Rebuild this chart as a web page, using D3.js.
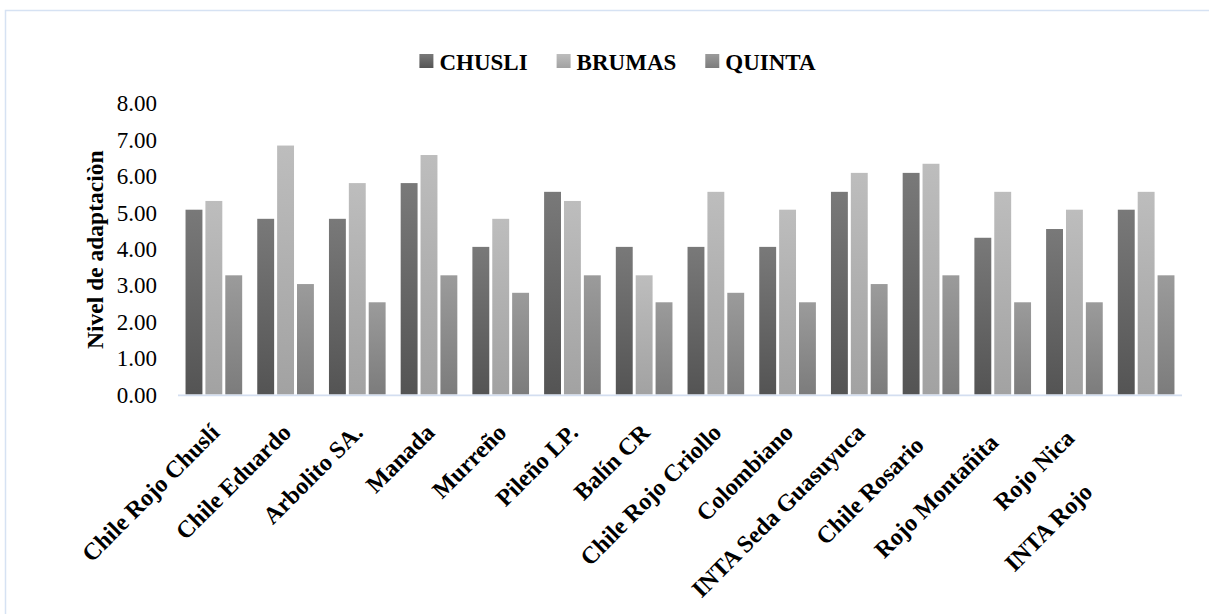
<!DOCTYPE html>
<html>
<head>
<meta charset="utf-8">
<script src="https://cdn.jsdelivr.net/npm/d3@7"></script>
<style>
  html, body { margin: 0; padding: 0; background: #fff; }
  svg { display: block; }
</style>
</head>
<body>
<svg id="chart" width="1209" height="614"></svg>
<script>
// Varieties on the category axis
const categories = [
  "Chile Rojo Chuslí", "Chile Eduardo", "Arbolito SA.", "Manada", "Murreño",
  "Pileño LP.", "Balín CR", "Chile Rojo Criollo", "Colombiano",
  "INTA Seda Guasuyuca", "Chile Rosario", "Rojo Montañita", "Rojo Nica", "INTA Rojo"
];

// Adaptation level per site
const seriesNames = ["CHUSLI", "BRUMAS", "QUINTA"];
const chusli = [5.07, 4.82, 4.82, 5.80, 4.05, 5.56, 4.05, 4.05, 4.05, 5.56, 6.08, 4.30, 4.54, 5.07];
const brumas = [5.31, 6.83, 5.80, 6.57, 4.82, 5.31, 3.27, 5.56, 5.07, 6.08, 6.33, 5.56, 5.07, 5.56];
const quinta = [3.27, 3.03, 2.53, 3.27, 2.79, 3.27, 2.53, 2.79, 2.53, 3.03, 3.27, 2.53, 2.53, 3.27];

const yTicks = [0, 1, 2, 3, 4, 5, 6, 7, 8];
const yTitle = "Nivel de adaptaciòn";

const seriesValues = [chusli, brumas, quinta];

const SERIF = "'Liberation Serif', 'Times New Roman', Times, serif";

// Gradient stops (top, bottom) for each series
const fills = [
  ["#797979", "#545454"],
  ["#bdbdbd", "#a2a2a2"],
  ["#9b9b9b", "#7c7c7c"]
];

const svg = d3.select("#chart");

// Outer chart frame
svg.append("rect")
  .attr("x", 5.5).attr("y", 10.5)
  .attr("width", 1240).attr("height", 640)
  .attr("fill", "none")
  .attr("stroke", "#d6e2f3")
  .attr("stroke-width", 1.5);

const defs = svg.append("defs");
fills.forEach((f, i) => {
  const g = defs.append("linearGradient")
    .attr("id", "grad" + i)
    .attr("x1", 0).attr("y1", 0).attr("x2", 0).attr("y2", 1);
  g.append("stop").attr("offset", "0%").attr("stop-color", f[0]);
  g.append("stop").attr("offset", "100%").attr("stop-color", f[1]);
});

const plot = { left: 178, right: 1182, top: 102.9, bottom: 394.5 };

const x0 = d3.scaleBand()
  .domain(categories)
  .range([plot.left, plot.right])
  .paddingInner(0.21)
  .paddingOuter(0.105);

const x1 = d3.scaleBand()
  .domain(seriesNames)
  .range([0, x0.bandwidth()])
  .paddingInner(0.15)
  .paddingOuter(0);

const y = d3.scaleLinear()
  .domain([0, 8])
  .range([plot.bottom, plot.top]);

// Bars
const groups = svg.append("g").selectAll("g")
  .data(categories)
  .join("g")
  .attr("transform", d => `translate(${x0(d)},0)`);

groups.selectAll("rect")
  .data((d, i) => seriesNames.map((s, k) => ({ s, k, v: seriesValues[k][i] })))
  .join("rect")
  .attr("x", d => x1(d.s))
  .attr("width", x1.bandwidth())
  .attr("y", d => y(d.v))
  .attr("height", d => y(0) - y(d.v))
  .attr("fill", d => `url(#grad${d.k})`);

// Category axis line
svg.append("line")
  .attr("x1", plot.left).attr("x2", plot.right)
  .attr("y1", y(0) + 0.8).attr("y2", y(0) + 0.8)
  .attr("stroke", "#d3def0")
  .attr("stroke-width", 1.8);

// Value axis labels
const yAxis = d3.axisLeft(y)
  .tickValues(yTicks)
  .tickFormat(d3.format(".2f"))
  .tickSize(0)
  .tickPadding(0);

const yg = svg.append("g")
  .attr("transform", `translate(157,0)`)
  .call(yAxis)
  .attr("font-family", null)
  .attr("font-size", null);
yg.select(".domain").remove();
yg.selectAll("text")
  .style("font-family", SERIF)
  .style("font-size", "23px")
  .attr("fill", "#000")
  .attr("dy", "0.34em");

// Value axis title
svg.append("text")
  .attr("transform", `translate(103,${(plot.top + plot.bottom) / 2 + 1}) rotate(-90)`)
  .attr("text-anchor", "middle")
  .style("font-family", SERIF)
  .style("font-size", "23.5px")
  .style("font-weight", "bold")
  .text(yTitle);

// Category labels, rotated 45 degrees; shift moves a label down-left along its own direction
const labelShift = [0, 0, 0, 0, 0, 0, 0, 0, 0, 0, 18, 14, 8, 84];
svg.append("g").selectAll("text")
  .data(categories)
  .join("text")
  .attr("text-anchor", "end")
  .style("font-family", SERIF)
  .style("font-size", "24px")
  .style("font-weight", "bold")
  .attr("transform", (d, i) => {
    const cx = x0(d) + x0.bandwidth() / 2 + 7;
    const s = labelShift[i] / Math.SQRT2;
    return `translate(${cx - s},${434 + s}) rotate(-45)`;
  })
  .text(d => d);

// Legend
const legend = svg.append("g").attr("transform", "translate(0,70)");
const items = legend.selectAll("g")
  .data(seriesNames)
  .join("g");
items.append("rect")
  .attr("width", 14).attr("height", 14)
  .attr("y", -16)
  .attr("fill", (d, i) => `url(#grad${i})`);
items.append("text")
  .attr("x", 20)
  .style("font-family", SERIF)
  .style("font-size", "23px")
  .style("font-weight", "bold")
  .text(d => d);

const widths = [];
items.each(function () {
  widths.push(20 + d3.select(this).select("text").node().getComputedTextLength());
});
const gap = 29;
const total = d3.sum(widths) + gap * (widths.length - 1);
let cursor = 617.5 - total / 2;
items.each(function (d, i) {
  d3.select(this).attr("transform", `translate(${cursor},0)`);
  cursor += widths[i] + gap;
});
</script>
</body>
</html>
